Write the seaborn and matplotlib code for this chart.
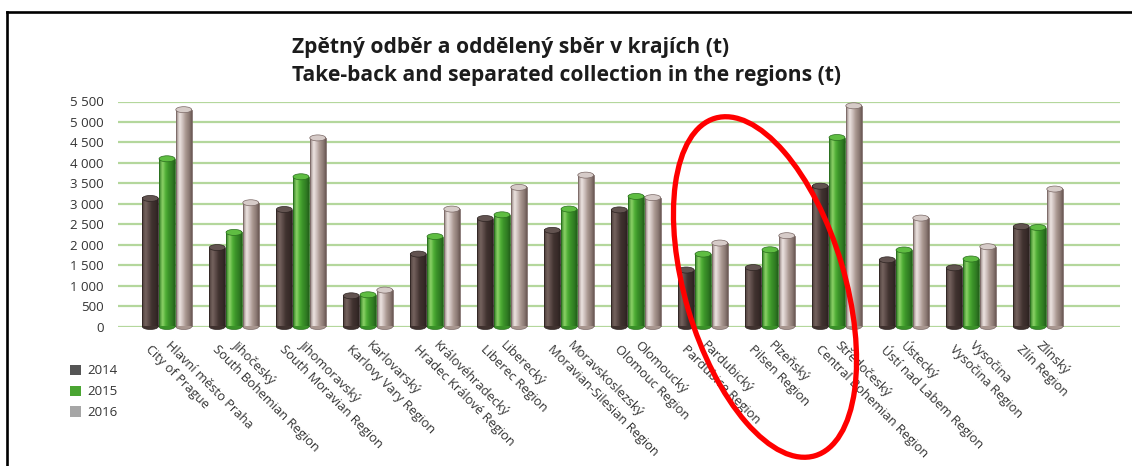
import numpy as np
import pandas as pd
import matplotlib
matplotlib.use("Agg")
import matplotlib.pyplot as plt
import seaborn as sns
from matplotlib.patches import Ellipse, Patch
from matplotlib.lines import Line2D
from matplotlib.colors import LinearSegmentedColormap
from matplotlib import transforms as mtransforms

# ---- data ---------------------------------------------------------------
regions_cz = ["Hlavní město Praha", "Jihočeský", "Jihomoravský", "Karlovarský",
              "Královéhradecký", "Liberecký", "Moravskoslezský", "Olomoucký",
              "Pardubický", "Plzeňský", "Středočeský", "Ústecký", "Vysočina",
              "Zlínský"]
regions_en = ["City of Prague", "South Bohemian Region", "South Moravian Region",
              "Karlovy Vary Region", "Hradec Králové Region", "Liberec Region",
              "Moravian-Silesian Region", "Olomouc Region", "Pardubice Region",
              "Pilsen Region", "Central Bohemian Region", "Ústí nad Labem Region",
              "Vysočina Region", "Zlín Region"]
years = ["2014", "2015", "2016"]
values_2014 = [3130, 1930, 2860, 750, 1770, 2640, 2350, 2850, 1380, 1440, 3430, 1630, 1435, 2440]
values_2015 = [4100, 2300, 3660, 775, 2200, 2730, 2870, 3180, 1770, 1875, 4620, 1870, 1650, 2420]
values_2016 = [5300, 3025, 4610, 890, 2870, 3400, 3700, 3150, 2040, 2220, 5395, 2650, 1950, 3360]
y_ticks = list(range(0, 5501, 500))

title_cz = "Zpětný odběr a oddělený sběr v krajích (t)"
title_en = "Take-back and separated collection in the regions (t)"

df = pd.DataFrame({
    "region": regions_cz * 3,
    "year": np.repeat(years, len(regions_cz)),
    "value": values_2014 + values_2015 + values_2016,
})

# ---- style --------------------------------------------------------------
sns.set_theme(style="white")
plt.rcParams["font.family"] = ["Open Sans", "DejaVu Sans"]

W, H, DPI = 1132, 466, 100
fig = plt.figure(figsize=(W / DPI, H / DPI), dpi=DPI)
fig.patch.set_facecolor("white")

ax_left, ax_right = 118, 1120
ax_bottom, ax_top = 326.5, 101.5
ax = fig.add_axes([ax_left / W, (H - ax_bottom) / H,
                   (ax_right - ax_left) / W, (ax_bottom - ax_top) / H])

legend_colors = ["#555555", "#4aa532", "#a6a6a6"]
sns.barplot(data=df, x="region", y="value", hue="year", palette=legend_colors,
            width=0.75, gap=0.05, ax=ax, legend=False, zorder=3)

# cylinder shading for each series: horizontal gradient + caps
shades = {
    "2014": (["#4a3b39", "#76645f", "#5c4b48", "#40322f", "#382b29", "#2c2220"],
             "#625350", "#2e2422"),
    "2015": (["#2f7a22", "#8fd46a", "#4fae36", "#3a9128", "#2f7a22", "#23601a"],
             "#5fbd42", "#2a6e1e"),
    "2016": (["#8c7b78", "#efe6e3", "#cdbfbc", "#a8968f", "#8a7873", "#6a5853"],
             "#d6cbc8", "#7a6865"),
}
stops = [0.0, 0.22, 0.42, 0.62, 0.85, 1.0]
units_per_px = 5500 / (ax_bottom - ax_top)
cap_h = 6 * units_per_px

for year, container in zip(years, ax.containers):
    cols, cap_col, edge_col = shades[year]
    cmap = LinearSegmentedColormap.from_list(year, list(zip(stops, cols)))
    grad = np.linspace(0, 1, 64)[None, :]
    for bar in container:
        x0, w, h = bar.get_x(), bar.get_width(), bar.get_height()
        ax.imshow(grad, cmap=cmap, extent=[x0, x0 + w, 0, h], aspect="auto",
                  zorder=2, interpolation="bicubic")
        bar.set_facecolor("none")
        bar.set_edgecolor(edge_col)
        bar.set_linewidth(0.6)
        # rounded bottom
        ax.add_patch(Ellipse((x0 + w / 2, 0), w, cap_h, facecolor=cols[3],
                             edgecolor=edge_col, lw=0.5, zorder=1.9, clip_on=False))
        # top cap
        ax.add_patch(Ellipse((x0 + w / 2, h), w, cap_h, facecolor=cap_col,
                             edgecolor=edge_col, lw=0.5, zorder=4, clip_on=False))

# ---- axes ---------------------------------------------------------------
ax.set_xlim(-(167 - ax_left) / 67, (ax_right - 167) / 67)
ax.set_ylim(0, 5500)
ax.set_yticks(y_ticks)
ax.set_yticklabels([f"{v:,}".replace(",", " ") for v in y_ticks])
ax.tick_params(axis="y", length=0, pad=10.5, labelsize=9.5, labelcolor="#333333")
ax.set_xticks([])
ax.set_xlabel("")
ax.set_ylabel("")
for s in ax.spines.values():
    s.set_visible(False)
ax.grid(False)
for v in y_ticks:
    ax.axhline(v, color="#b4d79c", lw=1.6, zorder=0.5)
ax.set_facecolor("white")

# two-line rotated category labels
for i, (cz, en) in enumerate(zip(regions_cz, regions_en)):
    ax.annotate(cz, xy=(i, 0), xycoords=("data", "axes fraction"),
                xytext=(5, -12), textcoords="offset pixels",
                rotation=-45, rotation_mode="anchor", ha="left", va="top",
                fontsize=9.3, color="#333333")
    ax.annotate(en, xy=(i, 0), xycoords=("data", "axes fraction"),
                xytext=(-15, -16), textcoords="offset pixels",
                rotation=-45, rotation_mode="anchor", ha="left", va="top",
                fontsize=9.3, color="#333333")

# ---- title (sized so the English line spans the header width) -----------
t1 = fig.text(292 / W, 1 - 48 / H, title_cz, fontsize=14, fontweight="bold",
              color="#1c1c1c", ha="left", va="center")
t2 = fig.text(292 / W, 1 - 75 / H, title_en, fontsize=14, fontweight="bold",
              color="#1c1c1c", ha="left", va="center")
renderer = fig.canvas.get_renderer()
scale = 551 / t2.get_window_extent(renderer).width
for t in (t1, t2):
    t.set_fontsize(14 * scale)

# ---- legend -------------------------------------------------------------
handles = [Patch(facecolor=c, edgecolor="none") for c in legend_colors]
fig.legend(handles, years, loc="upper left", bbox_to_anchor=(65 / W, 1 - 359 / H),
           frameon=False, fontsize=9.5, labelcolor="#333333",
           handlelength=0.8, handleheight=0.8, handletextpad=0.5,
           labelspacing=0.6, borderaxespad=0)

# ---- frame lines --------------------------------------------------------
fig.add_artist(Line2D([7 / W, 7 / W], [0, 1 - 12 / H], transform=fig.transFigure,
                      color="black", lw=1.9, solid_capstyle="projecting"))
fig.add_artist(Line2D([7 / W, 1], [1 - 12 / H, 1 - 12 / H], transform=fig.transFigure,
                      color="black", lw=1.9, solid_capstyle="projecting"))

# ---- highlight ring around Pardubický / Plzeňský ----------------------
ring = Ellipse((765, H - 287), 352, 160, angle=106.5, transform=mtransforms.IdentityTransform(),
               facecolor="none", edgecolor="#ff0000", lw=3.8)
fig.add_artist(ring)

fig.savefig("out.png", dpi=DPI, facecolor="white")
